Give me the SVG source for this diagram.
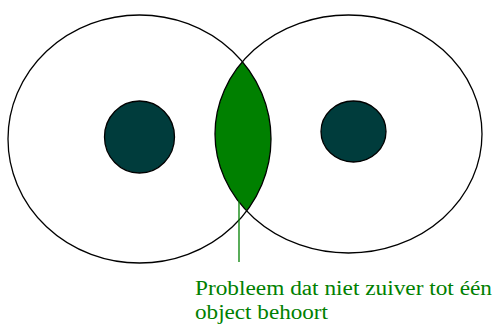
<svg xmlns="http://www.w3.org/2000/svg" width="495" height="325" viewBox="0 0 495 325">
<style>
.outline{fill:none;stroke:#000;stroke-width:1.3}
.core{fill:#003c3c;stroke:#000;stroke-width:1.3}
.lbl{font-family:"Liberation Serif","DejaVu Serif",serif;font-size:20px;fill:#008000}
</style>
<defs>
<clipPath id="clipL"><ellipse cx="139.5" cy="139" rx="131.5" ry="124"/></clipPath>
</defs>
<rect width="495" height="325" fill="#fff"/>
<g id="lens">
<ellipse cx="348.5" cy="134" rx="133.5" ry="119" fill="#008000" clip-path="url(#clipL)"/>
</g>
<g id="left-object">
<ellipse class="outline" cx="139.5" cy="139" rx="131.5" ry="124"/>
<ellipse class="core" cx="139.5" cy="137" rx="35" ry="36"/>
</g>
<g id="right-object">
<ellipse class="outline" cx="348.5" cy="134" rx="133.5" ry="119"/>
<ellipse class="core" cx="353.5" cy="131.5" rx="32.5" ry="30.5"/>
</g>
<g id="connectors">
<line x1="239" y1="200" x2="239" y2="262" stroke="#008000" stroke-width="1.3"/>
</g>
<g id="label">
<text class="lbl" x="195" y="295" textLength="297" lengthAdjust="spacingAndGlyphs">Probleem dat niet zuiver tot één</text>
<text class="lbl" x="195" y="319" textLength="133" lengthAdjust="spacingAndGlyphs">object behoort</text>
</g>
</svg>
